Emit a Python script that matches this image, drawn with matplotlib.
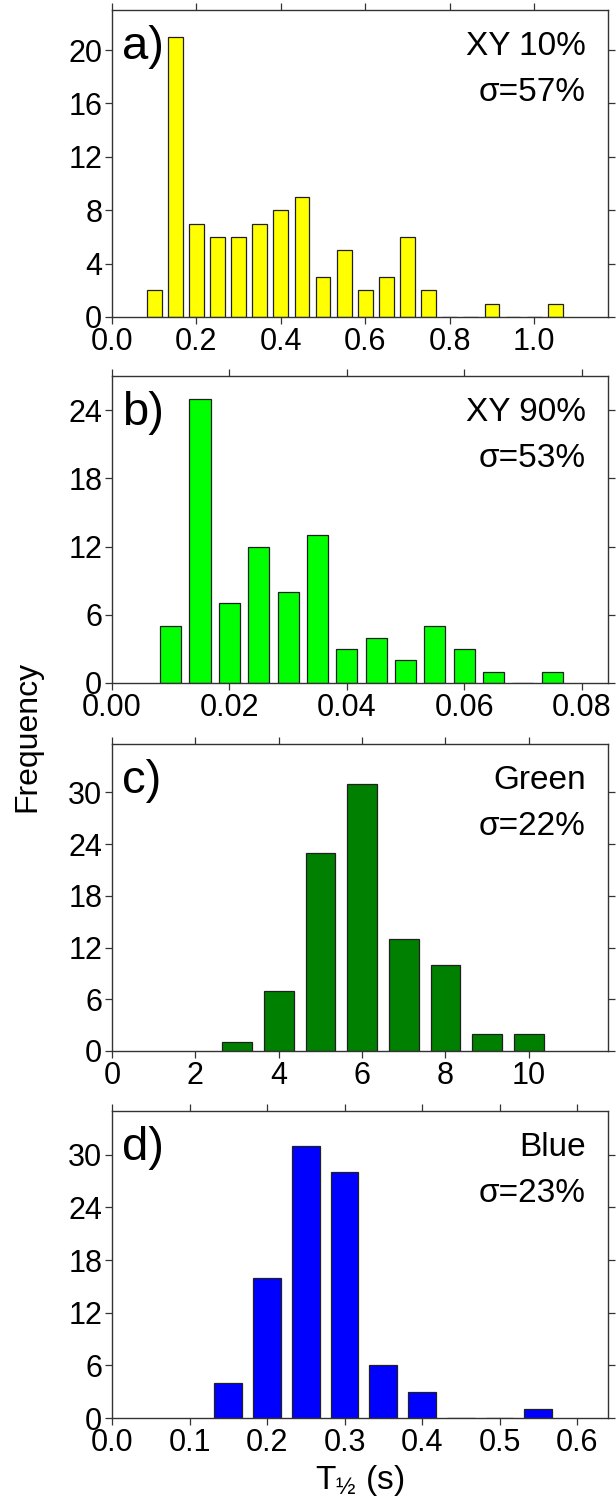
import matplotlib
matplotlib.use("Agg")
import matplotlib.pyplot as plt
import numpy as np

plt.rcParams['font.family'] = ['Liberation Sans', 'DejaVu Sans']

# panel a) XY 10%
a_bins = [0.10, 0.15, 0.20, 0.25, 0.30, 0.35, 0.40, 0.45, 0.50, 0.55,
          0.60, 0.65, 0.70, 0.75, 0.80, 0.85, 0.90, 0.95, 1.00, 1.05]
a_counts = [2, 21, 7, 6, 6, 7, 8, 9, 3, 5, 2, 3, 6, 2, 0, 0, 1, 0, 0, 1]

# panel b) XY 90%
b_bins = [0.010, 0.015, 0.020, 0.025, 0.030, 0.035, 0.040, 0.045,
          0.050, 0.055, 0.060, 0.065, 0.070, 0.075]
b_counts = [5, 25, 7, 12, 8, 13, 3, 4, 2, 5, 3, 1, 0, 1]

# panel c) Green
c_bins = [3, 4, 5, 6, 7, 8, 9, 10]
c_counts = [1, 7, 23, 31, 13, 10, 2, 2]

# panel d) Blue
d_bins = [0.15, 0.20, 0.25, 0.30, 0.35, 0.40, 0.45, 0.50, 0.55]
d_counts = [4, 16, 31, 28, 6, 3, 0, 0, 1]

panels = [
    dict(x=a_bins, y=a_counts, w=0.035, color='#ffff00', tag='a)', name='XY 10%', sig='σ=57%',
         xlim=(0, 1.175), ylim=(0, 23), xt=np.arange(0, 1.01, 0.2), yt=[0, 4, 8, 12, 16, 20], fmt='%.1f'),
    dict(x=b_bins, y=b_counts, w=0.0036, color='#00ff00', tag='b)', name='XY 90%', sig='σ=53%',
         xlim=(0, 0.0845), ylim=(0, 27), xt=np.arange(0, 0.081, 0.02), yt=[0, 6, 12, 18, 24], fmt='%.2f'),
    dict(x=c_bins, y=c_counts, w=0.71, color='#008000', tag='c)', name='Green', sig='σ=22%',
         xlim=(0, 11.9), ylim=(0, 35.6), xt=[0, 2, 4, 6, 8, 10], yt=[0, 6, 12, 18, 24, 30], fmt='%d'),
    dict(x=d_bins, y=d_counts, w=0.036, color='#0000ff', tag='d)', name='Blue', sig='σ=23%',
         xlim=(0, 0.64), ylim=(0, 35), xt=np.arange(0, 0.61, 0.1), yt=[0, 6, 12, 18, 24, 30], fmt='%.1f'),
]

fig = plt.figure(figsize=(6.16, 15.11), dpi=100)
W, H = 616, 1511
tops = [10, 376, 744, 1111]
left, right, ph = 112, 608, 307

for p, top in zip(panels, tops):
    ax = fig.add_axes([left / W, 1 - (top + ph) / H, (right - left) / W, ph / H])
    ax.bar(p['x'], p['y'], width=p['w'], color=p['color'], edgecolor='#202020', linewidth=0.9)
    ax.set_xlim(*p['xlim']); ax.set_ylim(*p['ylim'])
    ax.set_xticks(p['xt']); ax.set_yticks(p['yt'])
    ax.set_xticklabels([p['fmt'] % v for v in p['xt']])
    ax.tick_params(direction='out', length=5, width=0.9, color='#333333', labelsize=22,
                   top=True, right=True, pad=2)
    for s in ax.spines.values():
        s.set_color('#333333'); s.set_linewidth(1.0)
    ax.text(0.02, 0.88, p['tag'], transform=ax.transAxes, fontsize=34, va='center', ha='left')
    ax.text(0.955, 0.88, p['name'], transform=ax.transAxes, fontsize=24, va='center', ha='right')
    ax.text(0.955, 0.73, p['sig'], transform=ax.transAxes, fontsize=24, va='center', ha='right')
    last = ax

last.set_xlabel(r'T$_{\mathregular{½}}$ (s)', fontsize=24, labelpad=4)
fig.text(27 / W, 1 - 736 / H, 'Frequency', rotation=90, fontsize=23, va='center', ha='center')

fig.savefig('out.png', dpi=100)
